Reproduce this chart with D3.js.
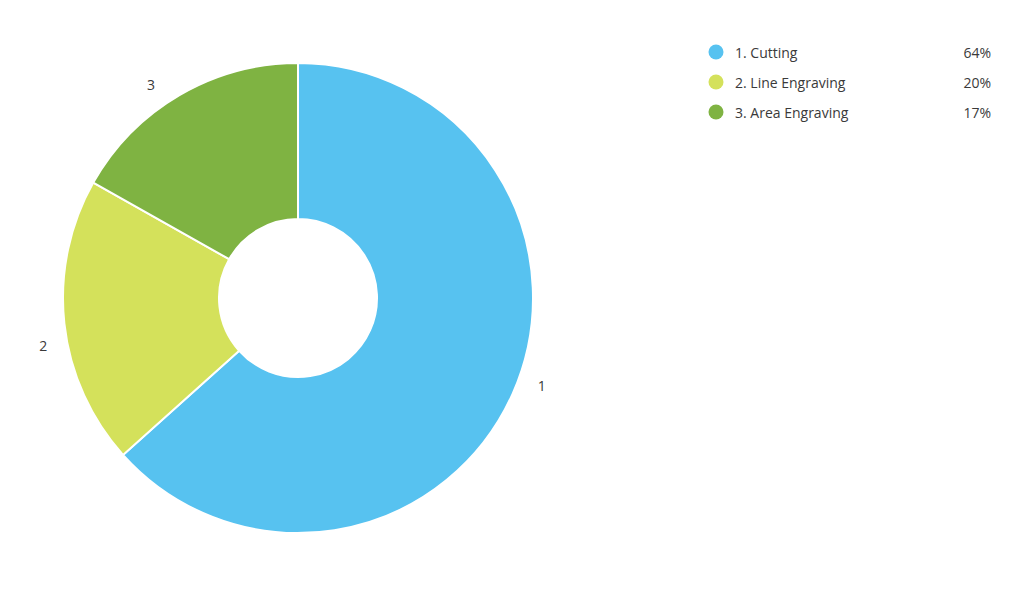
<!DOCTYPE html>
<html><head><meta charset="utf-8">
<script src="https://cdn.jsdelivr.net/npm/d3@7"></script>
<style>body{margin:0;background:#fff}svg{display:block}</style>
</head><body>
<svg id="c" width="1024" height="597"></svg>
<script>
const categories = ["1. Cutting", "2. Line Engraving", "3. Area Engraving"];
const sliceLabels = ["1", "2", "3"];
const values = [64, 20, 17];
const colors = ["#57c2f0", "#d4e15b", "#7fb342"];

const svg = d3.select("#c");
const cx = 298, cy = 298, outerR = 235, innerR = 79;
const font = "'Open Sans', sans-serif";
const pie = d3.pie().sort(null).value(d => d)(values);
const arc = d3.arc().innerRadius(innerR).outerRadius(outerR);
const g = svg.append("g").attr("transform", `translate(${cx},${cy})`);
g.selectAll("path").data(pie).enter().append("path")
  .attr("d", arc).attr("fill", (d, i) => colors[i])
  .attr("stroke", "#fff").attr("stroke-width", 2);

const labelR = 259;
g.selectAll("text.sl").data(pie).enter().append("text")
  .attr("class", "sl")
  .each(function(d, i) {
    const a = (d.startAngle + d.endAngle) / 2 - 0.075;
    d3.select(this).attr("x", labelR * Math.sin(a)).attr("y", -labelR * Math.cos(a));
  })
  .attr("text-anchor", "middle").attr("dominant-baseline", "central")
  .attr("font-family", font).attr("font-size", 14).attr("fill", "#3a3a3a")
  .text((d, i) => sliceLabels[i]);

const leg = svg.append("g");
const y = d3.scaleBand().domain(categories).range([37, 127]);
categories.forEach((c, i) => {
  const yy = y(c) + y.bandwidth() / 2;
  leg.append("circle").attr("cx", 716).attr("cy", yy).attr("r", 7.5).attr("fill", colors[i]);
  leg.append("text").attr("x", 735).attr("y", yy).attr("dominant-baseline", "central")
    .attr("font-family", font).attr("font-size", 14).attr("fill", "#3a3a3a").text(c);
  leg.append("text").attr("x", 991).attr("y", yy).attr("dominant-baseline", "central")
    .attr("text-anchor", "end")
    .attr("font-family", font).attr("font-size", 14).attr("fill", "#3a3a3a")
    .text(values[i] + "%");
});
</script>
</body></html>
